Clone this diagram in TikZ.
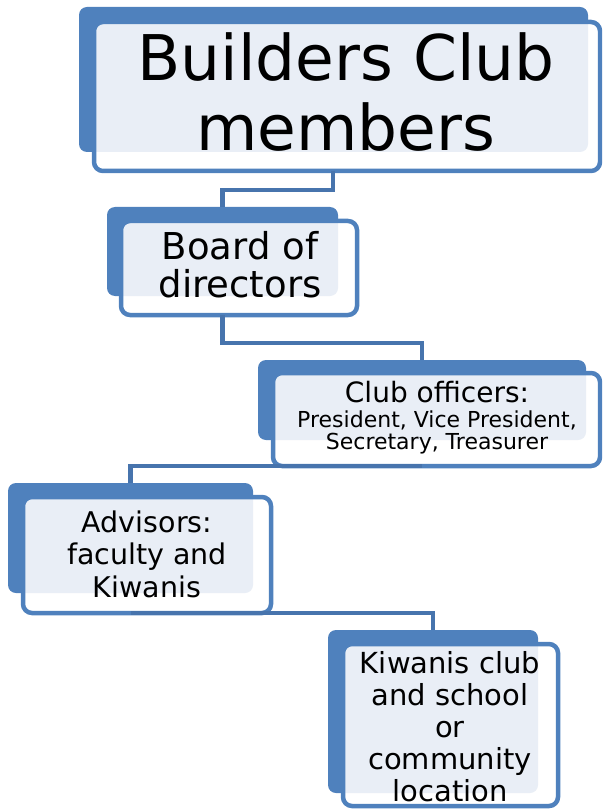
\documentclass[tikz,border=0pt]{standalone}
\usepackage{fontspec}
\setmainfont{DejaVu Sans}
\usetikzlibrary{calc}

\definecolor{boxblue}{HTML}{4F81BD}
\definecolor{boxpale}{HTML}{E9EEF6}
\definecolor{linkblue}{HTML}{4774AD}

\tikzset{
    backbox/.style={fill=boxblue, rounded corners=8pt, inner sep=0pt, outer sep=0pt, anchor=north west},
    frontbox/.style={draw=boxblue, line width=4.5pt, fill=white, rounded corners=9pt, inner sep=0pt, outer sep=0pt, anchor=north west,
        path picture={\fill[boxpale, rounded corners=8pt] (#1.north west) rectangle (#1.south east);}},
    link/.style={draw=linkblue, line width=4.5pt},
    caption/.style={align=center, inner sep=0pt, text=black}
}

\begin{document}
\begin{tikzpicture}[x=1pt, y=-1pt]

            \path[use as bounding box, clip] (0,0) rectangle (602,810);

            \node[backbox, minimum width=509pt, minimum height=145pt] (members-back) at (79,7) {};
            \node[frontbox=members-back, minimum width=506pt, minimum height=149pt] (members-box) at (94,22) {};
            \node[caption, font=\fontsize{63}{70}\selectfont] (members) at (346,92) {Builders Club\\members};

            \node[backbox, minimum width=231pt, minimum height=89pt] (board-back) at (107,207) {};
            \node[frontbox=board-back, minimum width=236pt, minimum height=94pt] (board-box) at (121,221) {};
            \node[caption, font=\fontsize{37}{38}\selectfont] (board) at (240,265) {Board of\\directors};

            \node[backbox, minimum width=328pt, minimum height=80pt] (officers-back) at (258,360) {};
            \node[frontbox=officers-back, minimum width=327pt, minimum height=93pt] (officers-box) at (273,373) {};
            \node[caption, font=\fontsize{22}{22}\selectfont] (officers) at (437,418)
                {{\fontsize{28}{28}\selectfont Club officers:}\\[3pt]President, Vice President,\\Secretary, Treasurer};

            \node[backbox, minimum width=245pt, minimum height=110pt] (advisors-back) at (8,483) {};
            \node[frontbox=advisors-back, minimum width=248pt, minimum height=116pt] (advisors-box) at (23,497) {};
            \node[caption, font=\fontsize{28.5}{32.5}\selectfont] (advisors) at (147,554) {Advisors:\\faculty and\\Kiwanis};

            \node[backbox, minimum width=210pt, minimum height=163pt] (location-back) at (328,630) {};
            \node[frontbox=location-back, minimum width=215pt, minimum height=162pt] (location-box) at (343,644) {};
            \node[caption, font=\fontsize{29}{32}\selectfont] (location) at (450,727) {Kiwanis club\\and school\\or\\community\\location};

            \draw[link] ([xshift=-14pt]members-box.south) -- ++(0,19) -| (board-back.north);
            \draw[link] (board-box.south -| board-back.south) -- ++(0,28) -| (officers-back.north);
            \draw[link] (officers-box.south -| officers-back.south) -| (advisors-back.north);
            \draw[link] (advisors-box.south -| advisors-back.south) -| (location-back.north);

        \end{tikzpicture}
\end{document}
